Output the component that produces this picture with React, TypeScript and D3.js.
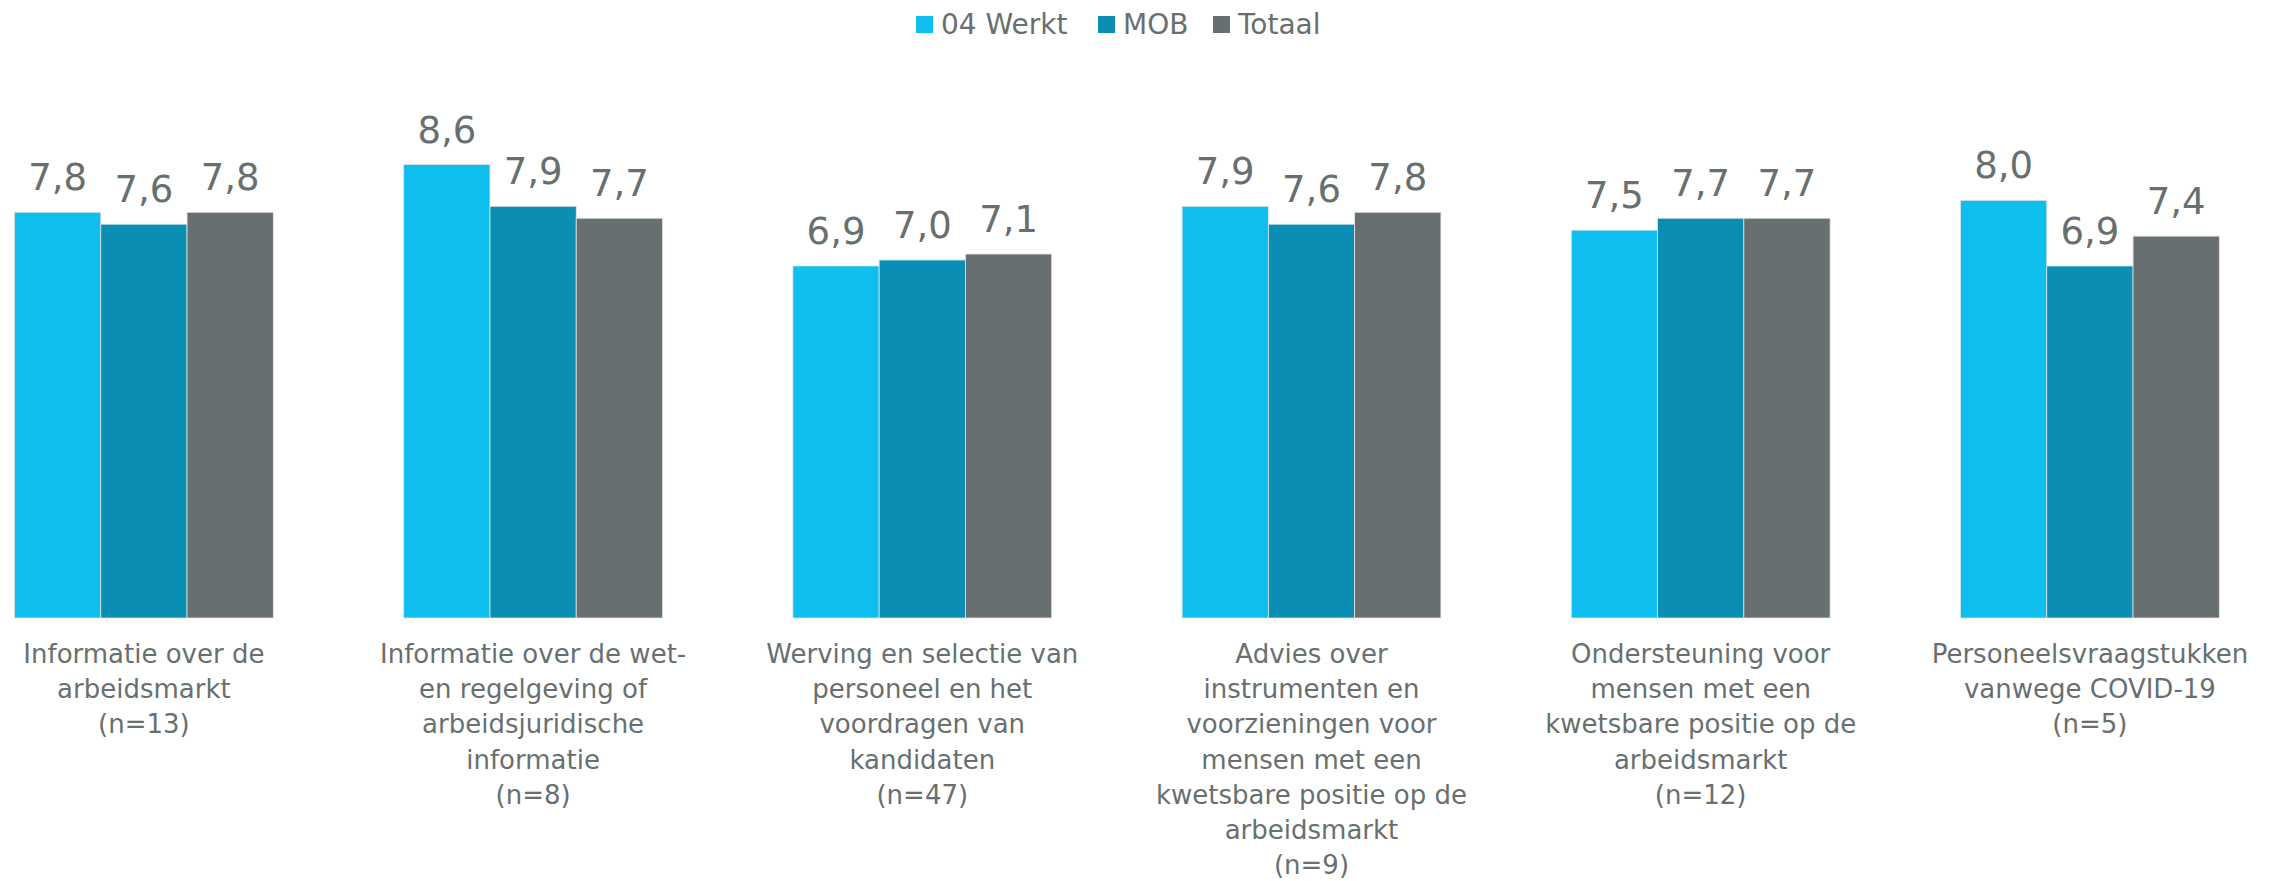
import React from 'react';
import * as d3 from 'd3';

const W = 2279;
const H = 881;

const categories = ['info', 'wet', 'werving', 'advies', 'ondersteuning', 'covid'];

const categoryLabels: string[][] = [
  ['Informatie over de', 'arbeidsmarkt', '(n=13)'],
  ['Informatie over de wet-', 'en regelgeving of', 'arbeidsjuridische', 'informatie', '(n=8)'],
  ['Werving en selectie van', 'personeel en het', 'voordragen van', 'kandidaten', '(n=47)'],
  ['Advies over', 'instrumenten en', 'voorzieningen voor', 'mensen met een', 'kwetsbare positie op de', 'arbeidsmarkt', '(n=9)'],
  ['Ondersteuning voor', 'mensen met een', 'kwetsbare positie op de', 'arbeidsmarkt', '(n=12)'],
  ['Personeelsvraagstukken', 'vanwege COVID-19', '(n=5)'],
];

const seriesNames = ['04 Werkt', 'MOB', 'Totaal'];
const seriesColors = ['#0EBEEE', '#0A8EB4', '#676F71'];

const werkt = [7.8, 8.6, 6.9, 7.9, 7.5, 8.0];
const mob = [7.6, 7.9, 7.0, 7.6, 7.7, 6.9];
const totaal = [7.8, 7.7, 7.1, 7.8, 7.7, 7.4];

const textColor = '#68706F';
const font = '"DejaVu Sans", Verdana, sans-serif';

const App: React.FC = () => {
  const seriesValues = [werkt, mob, totaal];

  // category bands (plot area runs a little past the left edge, like the source)
  const x0 = d3.scaleBand<string>()
    .domain(categories)
    .range([-50.7, 2284.5])
    .paddingInner(0.335)
    .paddingOuter(0.335 / 2);

  const x1 = d3.scaleBand<string>()
    .domain(seriesNames)
    .range([0, x0.bandwidth()]);

  const y = d3.scaleLinear()
    .domain([1, 10])
    .range([618, 81]);

  // legend layout
  const legendX = [916, 1098, 1213];

  return (
    <svg
      width={W}
      height={H}
      style={{ position: 'absolute', left: 0, top: 0, background: '#fff' }}
      fontFamily={font}
    >
      {/* Legend */}
      <g>
        {seriesNames.map((name, i) => (
          <g key={name} transform={`translate(${legendX[i]},0)`}>
            <rect x={0} y={16} width={17} height={17} fill={seriesColors[i]} />
            <text x={25} y={34} fontSize={28} fill={textColor}>{name}</text>
          </g>
        ))}
      </g>

      {/* Bars */}
      {categories.map((c, ci) => (
        <g key={c} transform={`translate(${x0(c)},0)`}>
          {seriesNames.map((s, si) => {
            const v = seriesValues[si][ci];
            const bx = x1(s) ?? 0;
            return (
              <g key={s}>
                <rect
                  x={bx}
                  y={y(v)}
                  width={x1.bandwidth()}
                  height={y(1) - y(v)}
                  fill={seriesColors[si]}
                  stroke="#dfe5e7"
                  strokeWidth={0.8}
                />
                <text
                  x={bx + x1.bandwidth() / 2}
                  y={y(v) - 22}
                  textAnchor="middle"
                  fontSize={37}
                  fill={textColor}
                >
                  {v.toFixed(1).replace('.', ',')}
                </text>
              </g>
            );
          })}
          <text
            x={x0.bandwidth() / 2}
            y={663}
            textAnchor="middle"
            fontSize={26}
            fill={textColor}
          >
            {categoryLabels[ci].map((line, li) => (
              <tspan key={li} x={x0.bandwidth() / 2} dy={li === 0 ? 0 : 35.2}>{line}</tspan>
            ))}
          </text>
        </g>
      ))}
    </svg>
  );
};

export default App;
